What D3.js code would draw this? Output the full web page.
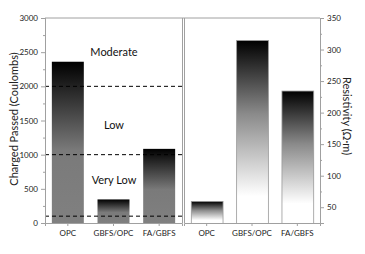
<!DOCTYPE html>
<html>
<head>
<meta charset="utf-8">
<script src="https://cdn.jsdelivr.net/npm/d3@7"></script>
<style>
  body { margin: 0; background: #fff; }
  svg { display: block; font-family: "Lato", "Open Sans", sans-serif; }
</style>
</head>
<body>
<svg id="chart" width="365" height="254"></svg>
<script>
// Data
const categories = ["OPC", "GBFS/OPC", "FA/GBFS"];
const chargePassed = [2360, 345, 1085];
const resistivity = [60, 315, 235];
const chargeTicks = [0, 500, 1000, 1500, 2000, 2500, 3000];
const resistTicks = [50, 100, 150, 200, 250, 300, 350];
const limitLines = [100, 1000, 2000];
const zoneLabels = [{text: "Moderate", v: 2450}, {text: "Low", v: 1370}, {text: "Very Low", v: 570}];

const svg = d3.select("#chart");
const plotTop = 18, plotBottom = 223;
const gray = "#a0a0a0";

// gradients
const defs = svg.append("defs");
const gLeft = defs.append("linearGradient").attr("id", "gLeft")
    .attr("x1", 0).attr("y1", 0).attr("x2", 0).attr("y2", 1);
gLeft.append("stop").attr("offset", 0).attr("stop-color", "#000");
gLeft.append("stop").attr("offset", 0.55).attr("stop-color", "#7a7a7a");
gLeft.append("stop").attr("offset", 1).attr("stop-color", "#808080");
const gRight = defs.append("linearGradient").attr("id", "gRight")
    .attr("x1", 0).attr("y1", 0).attr("x2", 0).attr("y2", 1);
gRight.append("stop").attr("offset", 0).attr("stop-color", "#000");
gRight.append("stop").attr("offset", 0.4).attr("stop-color", "#8a8a8a");
gRight.append("stop").attr("offset", 0.85).attr("stop-color", "#fff");
gRight.append("stop").attr("offset", 1).attr("stop-color", "#fff");

// scales
const xL = d3.scaleBand().domain(categories).range([45, 182]).paddingInner(0.3).paddingOuter(0.15);
const xR = d3.scaleBand().domain(categories).range([184, 320]).paddingInner(0.3).paddingOuter(0.15);
const yL = d3.scaleLinear().domain([0, 3000]).range([plotBottom, plotTop]);
const yR = d3.scaleLinear().domain([25, 350]).range([plotBottom, plotTop]);

// panel frames
svg.append("line").attr("x1", 45).attr("x2", 320).attr("y1", plotTop).attr("y2", plotTop)
    .attr("stroke", gray).attr("stroke-width", 1);
svg.append("line").attr("x1", 182.5).attr("x2", 182.5).attr("y1", plotTop).attr("y2", plotBottom)
    .attr("stroke", gray);
svg.append("line").attr("x1", 184.5).attr("x2", 184.5).attr("y1", plotTop).attr("y2", plotBottom)
    .attr("stroke", gray);

// left bars
svg.append("g").selectAll("rect")
    .data(categories)
    .enter().append("rect")
    .attr("x", (d) => xL(d))
    .attr("y", (d, i) => yL(chargePassed[i]))
    .attr("width", xL.bandwidth())
    .attr("height", (d, i) => plotBottom - yL(chargePassed[i]))
    .attr("fill", "url(#gLeft)");

// right bars
svg.append("g").selectAll("rect")
    .data(categories)
    .enter().append("rect")
    .attr("x", (d) => xR(d) + 0.5)
    .attr("y", (d, i) => yR(resistivity[i]) + 0.5)
    .attr("width", xR.bandwidth())
    .attr("height", (d, i) => plotBottom - yR(resistivity[i]))
    .attr("fill", "url(#gRight)")
    .attr("stroke", "#999")
    .attr("stroke-width", 0.8);

// dashed limit lines
svg.append("g").selectAll("line")
    .data(limitLines)
    .enter().append("line")
    .attr("x1", 45).attr("x2", 182)
    .attr("y1", d => yL(d)).attr("y2", d => yL(d))
    .attr("stroke", "#000").attr("stroke-width", 1)
    .attr("stroke-dasharray", "4,3");

// zone labels
svg.append("g").selectAll("text")
    .data(zoneLabels)
    .enter().append("text")
    .attr("x", 114).attr("y", d => yL(d.v))
    .attr("text-anchor", "middle")
    .attr("font-size", 11)
    .attr("fill", "#111")
    .text(d => d.text);

// axes
function styleAxis(g) {
    g.selectAll(".domain").attr("stroke", gray);
    g.selectAll(".tick line").attr("stroke", gray);
    g.selectAll(".tick text").attr("fill", "#222").attr("font-size", 8)
        .attr("font-family", "Lato, sans-serif");
}

// minor ticks
svg.append("g").attr("transform", "translate(45,0)")
    .call(d3.axisLeft(yL).tickValues(d3.range(250, 3000, 500)).tickSize(2).tickFormat(""))
    .call(styleAxis);
svg.append("g").attr("transform", "translate(45,0)")
    .call(d3.axisLeft(yL).tickValues(chargeTicks).tickSize(4).tickPadding(3).tickFormat(d3.format("d")))
    .call(styleAxis);

svg.append("g").attr("transform", "translate(320,0)")
    .call(d3.axisRight(yR).tickValues(d3.range(75, 350, 50)).tickSize(2).tickFormat(""))
    .call(styleAxis);
svg.append("g").attr("transform", "translate(320,0)")
    .call(d3.axisRight(yR).tickValues(resistTicks).tickSize(4).tickPadding(3).tickFormat(d3.format("d")))
    .call(styleAxis);

svg.append("g").attr("transform", `translate(0,${plotBottom})`)
    .call(d3.axisBottom(xL).tickSize(3).tickPadding(4))
    .call(styleAxis);
svg.append("g").attr("transform", `translate(0,${plotBottom})`)
    .call(d3.axisBottom(xR).tickSize(3).tickPadding(4))
    .call(styleAxis);

// axis titles
svg.append("text")
    .attr("transform", "translate(18,119) rotate(-90)")
    .attr("text-anchor", "middle")
    .attr("font-size", 11)
    .attr("fill", "#222")
    .text("Charged Passed (Coulombs)");
svg.append("text")
    .attr("transform", "translate(343,116) rotate(90)")
    .attr("text-anchor", "middle")
    .attr("font-size", 11)
    .attr("fill", "#222")
    .text("Resistivity (Ω·m)");
</script>
</body>
</html>
